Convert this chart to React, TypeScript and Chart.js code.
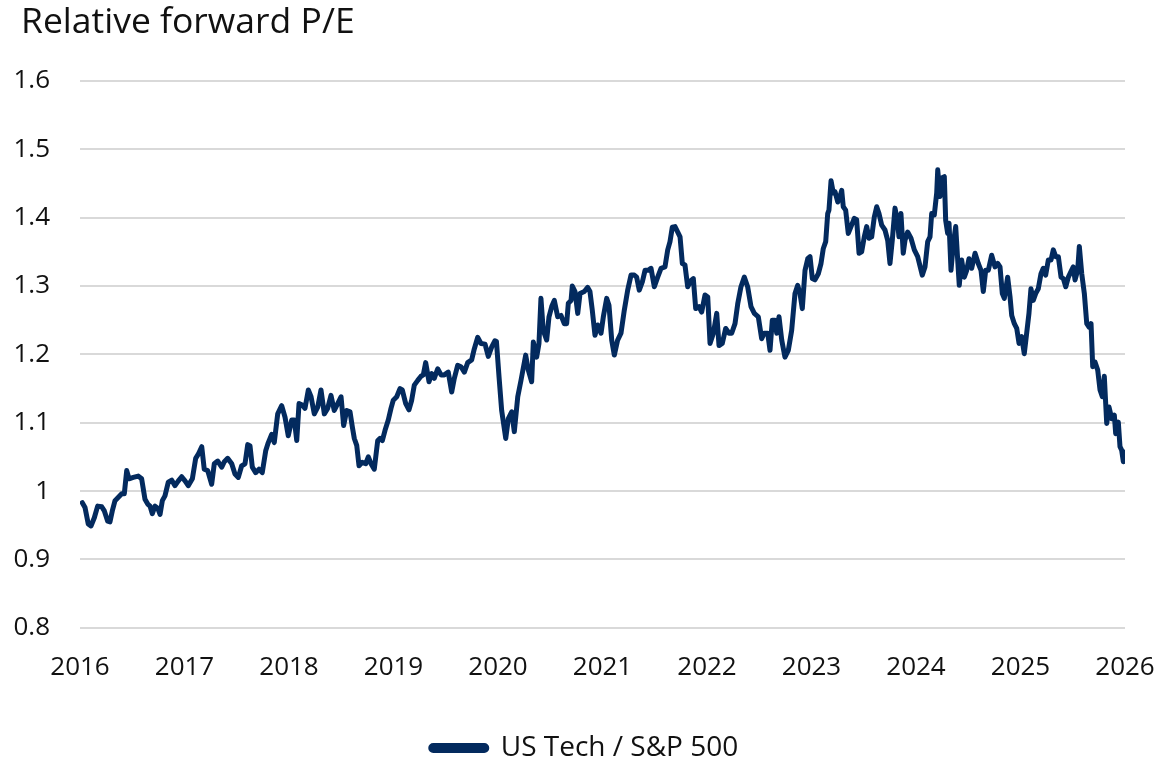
import React, { useEffect, useRef } from "react";
import { Chart, registerables } from "chart.js";

Chart.register(...registerables);

const chartTitle = "Relative forward P/E";
const seriesLabel = "US Tech / S&P 500";
const yTicks = [0.8, 0.9, 1.0, 1.1, 1.2, 1.3, 1.4, 1.5, 1.6];
const xYears = [2016, 2017, 2018, 2019, 2020, 2021, 2022, 2023, 2024, 2025, 2026];

const dates = [
  2016.022, 2016.048, 2016.079, 2016.105, 2016.137, 2016.169, 2016.208, 2016.233, 2016.265, 2016.287,
  2016.309, 2016.335, 2016.367, 2016.399, 2016.424, 2016.447, 2016.469, 2016.51, 2016.558, 2016.59,
  2016.622, 2016.648, 2016.67, 2016.692, 2016.718, 2016.744, 2016.766, 2016.788, 2016.813, 2016.845,
  2016.878, 2016.909, 2016.941, 2016.973, 2017.005, 2017.036, 2017.075, 2017.107, 2017.132, 2017.165,
  2017.189, 2017.222, 2017.26, 2017.285, 2017.318, 2017.356, 2017.381, 2017.413, 2017.452, 2017.483,
  2017.515, 2017.547, 2017.579, 2017.605, 2017.627, 2017.649, 2017.681, 2017.713, 2017.744, 2017.777,
  2017.802, 2017.834, 2017.859, 2017.892, 2017.93, 2017.962, 2017.993,
  2018.026, 2018.051, 2018.074, 2018.096, 2018.127, 2018.153, 2018.185, 2018.211, 2018.242, 2018.275,
  2018.306, 2018.338, 2018.37, 2018.402, 2018.433, 2018.466, 2018.498, 2018.523, 2018.552, 2018.584,
  2018.606, 2018.625, 2018.648, 2018.67, 2018.701, 2018.734, 2018.759, 2018.785, 2018.816, 2018.849,
  2018.871, 2018.893, 2018.919, 2018.95, 2018.976, 2018.998, 2019.031, 2019.062, 2019.084, 2019.117,
  2019.148, 2019.174, 2019.199, 2019.232, 2019.263, 2019.285, 2019.308, 2019.34, 2019.366, 2019.39,
  2019.423, 2019.455, 2019.486, 2019.524, 2019.557, 2019.582, 2019.614, 2019.646, 2019.678, 2019.71,
  2019.748, 2019.773, 2019.806, 2019.837, 2019.876, 2019.907, 2019.94, 2019.971, 2019.985,
  2020.01, 2020.035, 2020.074, 2020.099, 2020.131, 2020.156, 2020.189, 2020.22, 2020.265, 2020.29,
  2020.322, 2020.338, 2020.37, 2020.392, 2020.411, 2020.433, 2020.466, 2020.488, 2020.514, 2020.539,
  2020.571, 2020.603, 2020.634, 2020.657, 2020.673, 2020.699, 2020.711, 2020.737, 2020.763, 2020.785,
  2020.826, 2020.858, 2020.88, 2020.902, 2020.928, 2020.954, 2020.986, 2021.008, 2021.04, 2021.062,
  2021.088, 2021.113, 2021.145, 2021.177, 2021.209, 2021.241, 2021.273, 2021.304, 2021.327, 2021.352,
  2021.381, 2021.407, 2021.438, 2021.464, 2021.496, 2021.528, 2021.56, 2021.598, 2021.624, 2021.646,
  2021.668, 2021.694, 2021.72, 2021.742, 2021.764, 2021.789, 2021.815, 2021.847, 2021.869, 2021.892,
  2021.923, 2021.949, 2021.981, 2022.007, 2022.029, 2022.061, 2022.093, 2022.115, 2022.146, 2022.179,
  2022.211, 2022.236, 2022.268, 2022.294, 2022.325, 2022.357, 2022.389, 2022.421, 2022.453, 2022.491,
  2022.523, 2022.548, 2022.581, 2022.603, 2022.625, 2022.651, 2022.667, 2022.689, 2022.715, 2022.746,
  2022.778, 2022.81, 2022.842, 2022.868, 2022.89, 2022.912, 2022.938, 2022.964, 2022.986, 2023.008,
  2023.033, 2023.065, 2023.091, 2023.113, 2023.136, 2023.155, 2023.167, 2023.187, 2023.209, 2023.225,
  2023.251, 2023.273, 2023.289, 2023.304, 2023.327, 2023.352, 2023.378, 2023.409, 2023.432, 2023.455,
  2023.48, 2023.505, 2023.528, 2023.55, 2023.576, 2023.601, 2023.624, 2023.646, 2023.672, 2023.703,
  2023.729, 2023.751, 2023.773, 2023.799, 2023.821, 2023.837, 2023.856, 2023.878, 2023.895, 2023.92,
  2023.952, 2023.984, 2024.016, 2024.06, 2024.086, 2024.112, 2024.134, 2024.15, 2024.175, 2024.198,
  2024.208, 2024.23, 2024.246, 2024.271, 2024.284, 2024.303, 2024.316, 2024.335, 2024.357, 2024.38,
  2024.399, 2024.414, 2024.437, 2024.462, 2024.485, 2024.507, 2024.533, 2024.565, 2024.596, 2024.622,
  2024.644, 2024.667, 2024.692, 2024.724, 2024.756, 2024.782, 2024.804, 2024.826, 2024.845, 2024.877,
  2024.9, 2024.916, 2024.941, 2024.964, 2024.986, 2025.011, 2025.036, 2025.059, 2025.081, 2025.1,
  2025.122, 2025.145, 2025.17, 2025.196, 2025.218, 2025.241, 2025.266, 2025.292, 2025.314, 2025.337,
  2025.362, 2025.388, 2025.41, 2025.433, 2025.458, 2025.483, 2025.505, 2025.522, 2025.547, 2025.563,
  2025.586, 2025.611, 2025.634, 2025.656, 2025.675, 2025.691, 2025.713, 2025.739, 2025.761, 2025.783,
  2025.802, 2025.825, 2025.847, 2025.873, 2025.898, 2025.911, 2025.936, 2025.952, 2025.968, 2025.984,
  2026.0,
];

const ratio = [
  0.983, 0.976, 0.952, 0.949, 0.961, 0.978, 0.977, 0.971, 0.956, 0.955,
  0.971, 0.986, 0.991, 0.996, 0.996, 1.03, 1.018, 1.02, 1.022, 1.018,
  0.988, 0.981, 0.978, 0.967, 0.978, 0.975, 0.966, 0.986, 0.993, 1.013,
  1.016, 1.008, 1.015, 1.021, 1.015, 1.008, 1.018, 1.048, 1.054, 1.065,
  1.032, 1.03, 1.01, 1.04, 1.044, 1.035, 1.043, 1.048, 1.04, 1.025,
  1.02, 1.037, 1.04, 1.068, 1.066, 1.035, 1.027, 1.032, 1.027, 1.059,
  1.071, 1.083, 1.071, 1.113, 1.125, 1.108, 1.081,
  1.104, 1.104, 1.074, 1.128, 1.126, 1.121, 1.148, 1.138, 1.113, 1.123,
  1.148, 1.113, 1.121, 1.14, 1.118, 1.128, 1.138, 1.096, 1.118, 1.116,
  1.094, 1.077, 1.067, 1.037, 1.042, 1.04, 1.05, 1.04, 1.032, 1.074,
  1.077, 1.074, 1.089, 1.104, 1.121, 1.133, 1.138, 1.15, 1.148, 1.128,
  1.119, 1.133, 1.155, 1.162, 1.168, 1.17, 1.188, 1.16, 1.172, 1.165,
  1.179, 1.17, 1.17, 1.174, 1.145, 1.165, 1.184, 1.182, 1.174, 1.188,
  1.192, 1.208, 1.225, 1.216, 1.215, 1.197, 1.211, 1.22, 1.219,
  1.167, 1.118, 1.077, 1.106, 1.116, 1.087, 1.138, 1.162, 1.199, 1.177,
  1.16, 1.218, 1.196, 1.216, 1.282, 1.235, 1.221, 1.255, 1.27, 1.279,
  1.255, 1.257, 1.245, 1.245, 1.275, 1.279, 1.3, 1.292, 1.26, 1.289,
  1.292, 1.298, 1.292, 1.265, 1.228, 1.243, 1.231, 1.255, 1.282, 1.272,
  1.221, 1.199, 1.221, 1.231, 1.265, 1.294, 1.316, 1.316, 1.313, 1.294,
  1.306, 1.323, 1.323, 1.326, 1.299, 1.313, 1.326, 1.328, 1.353, 1.365,
  1.386, 1.387, 1.379, 1.372, 1.333, 1.331, 1.299, 1.308, 1.311, 1.267,
  1.27, 1.262, 1.287, 1.284, 1.216, 1.231, 1.26, 1.213, 1.216, 1.238,
  1.231, 1.231, 1.245, 1.274, 1.299, 1.313, 1.299, 1.27, 1.26, 1.255,
  1.223, 1.231, 1.231, 1.206, 1.25, 1.25, 1.231, 1.255, 1.221, 1.196,
  1.206, 1.235, 1.289, 1.301, 1.289, 1.267, 1.323, 1.34, 1.343, 1.311,
  1.309, 1.318, 1.333, 1.355, 1.365, 1.406, 1.411, 1.454, 1.436, 1.438,
  1.423, 1.431, 1.44, 1.416, 1.411, 1.377, 1.387, 1.399, 1.397, 1.348,
  1.35, 1.372, 1.387, 1.37, 1.372, 1.401, 1.416, 1.406, 1.389, 1.382,
  1.367, 1.333, 1.367, 1.414, 1.397, 1.372, 1.406, 1.348, 1.367, 1.379,
  1.37, 1.353, 1.343, 1.316, 1.328, 1.365, 1.372, 1.406, 1.404, 1.436,
  1.47, 1.431, 1.458, 1.46, 1.396, 1.377, 1.392, 1.323, 1.362, 1.387,
  1.338, 1.301, 1.338, 1.313, 1.323, 1.34, 1.326, 1.348, 1.333, 1.323,
  1.292, 1.323, 1.323, 1.345, 1.328, 1.333, 1.328, 1.289, 1.282, 1.313,
  1.284, 1.257, 1.245, 1.238, 1.216, 1.226, 1.201, 1.231, 1.26, 1.296,
  1.279, 1.289, 1.296, 1.318, 1.326, 1.316, 1.338, 1.338, 1.353, 1.343,
  1.343, 1.313, 1.311, 1.299, 1.313, 1.321, 1.328, 1.309, 1.323, 1.358,
  1.318, 1.289, 1.245, 1.24, 1.245, 1.182, 1.189, 1.177, 1.148, 1.138,
  1.168, 1.099, 1.123, 1.106, 1.111, 1.084, 1.101, 1.065, 1.06, 1.043,
  1.057,
];

const LINE_COLOR = "#032a5e";
const TEXT_COLOR = "#111111";
const FONT = "'Open Sans', 'Noto Sans', sans-serif";

export default function App() {
  const canvasRef = useRef<HTMLCanvasElement | null>(null);

  useEffect(() => {
    const canvas = canvasRef.current;
    if (!canvas) return;
    const points = dates.map((d, i) => ({ x: d, y: ratio[i] }));

    const titlePlugin = {
      id: "leftTitle",
      afterDraw(chart: any) {
        const ctx = chart.ctx;
        ctx.save();
        ctx.fillStyle = TEXT_COLOR;
        ctx.font = `35.5px ${FONT}`;
        ctx.textBaseline = "alphabetic";
        ctx.textAlign = "left";
        ctx.fillText(chartTitle, 21, 33);
        ctx.restore();
      },
    };

    const chart = new Chart(canvas, {
      type: "line",
      data: {
        datasets: [
          {
            label: seriesLabel,
            data: points,
            borderColor: LINE_COLOR,
            backgroundColor: LINE_COLOR,
            borderWidth: 5,
            pointRadius: 0,
            tension: 0,
            borderJoinStyle: "round",
            borderCapStyle: "round",
          },
        ],
      },
      options: {
        animation: false,
        responsive: false,
        maintainAspectRatio: false,
        layout: { padding: { top: 81, left: 10, right: 0, bottom: -12 } },
        scales: {
          x: {
            type: "linear",
            min: xYears[0],
            max: xYears[xYears.length - 1],
            grid: { display: false, drawTicks: false },
            border: { display: false },
            afterBuildTicks: (axis: any) => {
              axis.ticks = xYears.map((v) => ({ value: v }));
            },
            afterFit: (axis: any) => {
              axis.paddingRight = 34;
              axis.paddingLeft = 0;
              axis.height = axis.height + 5;
            },
            ticks: {
              color: TEXT_COLOR,
              font: { family: FONT, size: 26 },
              padding: 24,
              maxRotation: 0,
              autoSkip: false,
              callback: (v: any) => String(v),
            },
          },
          y: {
            min: yTicks[0],
            max: yTicks[yTicks.length - 1],
            afterBuildTicks: (axis: any) => {
              axis.ticks = yTicks.map((v) => ({ value: v }));
            },
            afterFit: (axis: any) => {
              axis.width = 70;
            },
            grid: { color: "#d9d9d9", lineWidth: 2, drawTicks: false },
            border: { display: false },
            ticks: {
              color: TEXT_COLOR,
              font: { family: FONT, size: 26 },
              padding: 30,
              callback: (v: any) => String(Number(Number(v).toFixed(1))),
            },
          },
        },
        plugins: {
          title: { display: false },
          tooltip: { enabled: false },
          legend: {
            display: true,
            position: "bottom",
            labels: {
              color: TEXT_COLOR,
              font: { family: FONT, size: 28 },
              boxWidth: 56,
              boxHeight: 5,
              useBorderRadius: true,
              borderRadius: 2.5,
              padding: 22,
            },
          },
        },
      },
      plugins: [titlePlugin],
    } as any);

    return () => chart.destroy();
  }, []);

  return (
    <div style={{ position: "fixed", left: 0, top: 0, width: 1159, height: 760, background: "#fff" }}>
      <canvas ref={canvasRef} width={1159} height={760} style={{ width: 1159, height: 760 }} />
    </div>
  );
}
